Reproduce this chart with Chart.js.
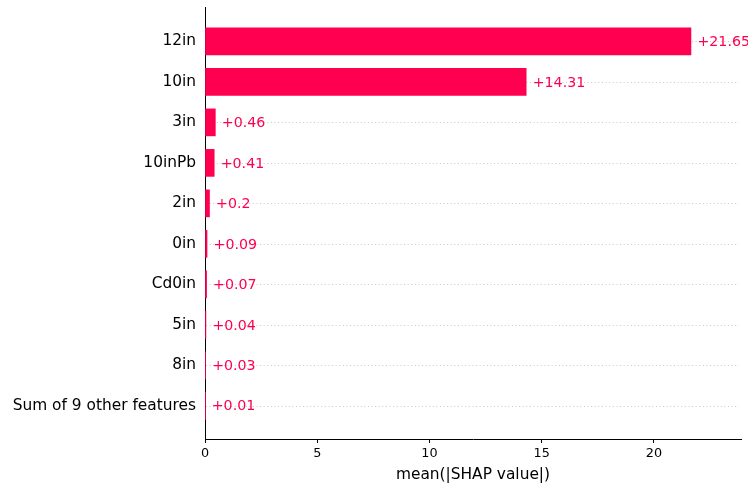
<!DOCTYPE html>
<html>
<head>
<meta charset="utf-8">
<script src="https://cdn.jsdelivr.net/npm/chart.js@4.4.1/dist/chart.umd.min.js"></script>
<style>
  html, body { margin: 0; padding: 0; background: #fff; }
  #wrap { width: 748px; height: 484px; }
</style>
</head>
<body>
<div id="wrap"><canvas id="c" width="748" height="484"></canvas></div>
<script>
// Features ranked by mean absolute SHAP value (top to bottom)
const features = ['12in', '10in', '3in', '10inPb', '2in', '0in', 'Cd0in', '5in', '8in', 'Sum of 9 other features'];
const meanAbsShap = [21.65, 14.31, 0.46, 0.41, 0.2, 0.09, 0.07, 0.04, 0.03, 0.01];
const xTicks = [0, 5, 10, 15, 20];

const RED = '#ff0051';
const FONT = '"DejaVu Sans", sans-serif';

// Light dotted guide line across the plot at every feature row
const rowGuides = {
  id: 'rowGuides',
  beforeDatasetsDraw(chart) {
    const { ctx, chartArea, scales } = chart;
    ctx.save();
    ctx.strokeStyle = '#c8c8c8';
    ctx.lineWidth = 1;
    ctx.setLineDash([1, 2.6]);
    features.forEach((f, i) => {
      const y = Math.round(scales.y.getPixelForValue(i)) + 0.5;
      ctx.beginPath();
      ctx.moveTo(chartArea.left + 1, y);
      ctx.lineTo(chartArea.right - 2, y);
      ctx.stroke();
    });
    ctx.restore();
  }
};

// Value labels ("+21.65") just right of each bar end
const valueLabels = {
  id: 'valueLabels',
  afterDatasetsDraw(chart) {
    const ctx = chart.ctx;
    const meta = chart.getDatasetMeta(0);
    ctx.save();
    ctx.font = '14.2px ' + FONT;
    ctx.fillStyle = RED;
    ctx.textAlign = 'left';
    ctx.textBaseline = 'middle';
    meta.data.forEach((bar, i) => {
      ctx.fillText('+' + String(meanAbsShap[i]), bar.x + 6.5, bar.y + 1);
    });
    ctx.restore();
  }
};

new Chart(document.getElementById('c'), {
  type: 'bar',
  data: {
    datasets: [{
      data: features.map((f, i) => ({ x: meanAbsShap[i], y: i })),
      backgroundColor: RED,
      borderWidth: 0,
      barThickness: 27
    }]
  },
  options: {
    indexAxis: 'y',
    responsive: false,
    animation: false,
    devicePixelRatio: 1,
    layout: { padding: { top: 7, right: 7, left: 0, bottom: 0 } },
    plugins: { legend: { display: false }, tooltip: { enabled: false } },
    scales: {
      x: {
        type: 'linear',
        min: 0,
        max: 23.88,
        offset: false,
        afterBuildTicks(scale) { scale.ticks = xTicks.map(v => ({ value: v })); },
        afterFit(scale) {
          scale.height = 45;
          scale.paddingLeft = 0;
          scale.paddingRight = 0;
        },
        border: { display: true, color: '#000', width: 1 },
        grid: { drawOnChartArea: false, drawTicks: true, tickLength: 4, color: '#000', lineWidth: 1, offset: false },
        ticks: { color: '#000', font: { family: FONT, size: 12.8 }, padding: 3, maxRotation: 0 },
        title: {
          display: true,
          text: 'mean(|SHAP value|)',
          color: '#000',
          font: { family: FONT, size: 15.4 },
          padding: { top: 2, bottom: 0 }
        }
      },
      y: {
        type: 'linear',
        reverse: true,
        min: -0.85,
        max: 9.82,
        offset: false,
        afterBuildTicks(scale) { scale.ticks = features.map((f, i) => ({ value: i })); },
        afterFit(scale) {
          scale.width = 205;
          scale.paddingTop = 0;
          scale.paddingBottom = 0;
        },
        border: { display: true, color: '#000', width: 1 },
        grid: { display: false, offset: false, drawTicks: false },
        ticks: {
          color: '#000',
          font: { family: FONT, size: 15.4 },
          padding: 9,
          autoSkip: false,
          callback: (v) => features[v]
        }
      }
    }
  },
  plugins: [rowGuides, valueLabels]
});
</script>
</body>
</html>
